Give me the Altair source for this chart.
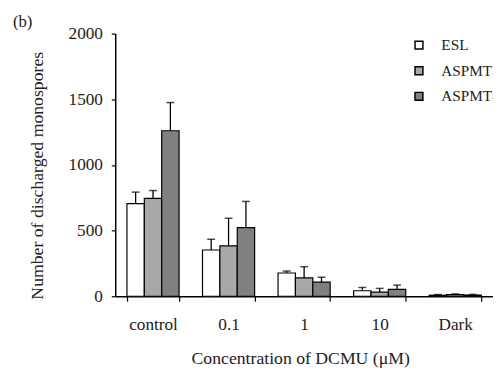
import altair as alt
import pandas as pd

categories = ["control", "0.1", "1", "10", "Dark"]
series = ["ESL", "ASPMT3", "ASPMT4"]
colors = ["#ffffff", "#a8a8a8", "#808080"]

esl_mean = [705, 352, 177, 42, 8]
esl_err = [88, 82, 15, 25, 5]
aspmt3_mean = [745, 384, 140, 32, 12]
aspmt3_err = [60, 210, 85, 28, 6]
aspmt4_mean = [1260, 522, 107, 52, 9]
aspmt4_err = [215, 200, 38, 33, 5]

rows = []
for s, means, errs in [("ESL", esl_mean, esl_err),
                       ("ASPMT3", aspmt3_mean, aspmt3_err),
                       ("ASPMT4", aspmt4_mean, aspmt4_err)]:
    for c, m, e in zip(categories, means, errs):
        rows.append({"conc": c, "series": s, "mean": m, "upper": m + e})
df = pd.DataFrame(rows)

FONT = "Liberation Serif"

base = alt.Chart(df).encode(
    x=alt.X("conc:N", sort=categories,
            scale=alt.Scale(paddingInner=0.31, paddingOuter=0.155),
            axis=alt.Axis(title="Concentration of DCMU (μM)", labelAngle=0,
                          tickBand="extent", tickSize=5, labelPadding=15,
                          titlePadding=17, titleX=188)),
    xOffset=alt.XOffset("series:N", sort=series,
                        scale=alt.Scale(paddingInner=0, paddingOuter=0)),
)

bars = base.mark_bar(stroke="black", strokeWidth=1.2).encode(
    y=alt.Y("mean:Q", scale=alt.Scale(domain=[0, 2000]),
            axis=alt.Axis(title="Number of discharged monospores",
                          values=[0, 500, 1000, 1500, 2000], format="d",
                          tickSize=4, labelPadding=9, titlePadding=22,
                          titleY=144)),
    color=alt.Color("series:N", sort=series,
                    scale=alt.Scale(domain=series, range=colors),
                    legend=alt.Legend(title=None, orient="none", legendX=301,
                                      legendY=4, symbolType="square",
                                      symbolSize=64, symbolStrokeColor="black",
                                      symbolStrokeWidth=1.5, labelOffset=15,
                                      rowPadding=9, labelFontSize=15.5,
                                      labelFont=FONT, labelColor="#222",
                                      padding=0)),
)

errs = base.mark_rule(color="black", strokeWidth=1.3).encode(
    y="mean:Q", y2="upper:Q")
caps = base.mark_tick(color="black", thickness=1.5, size=8).encode(
    y="upper:Q")

chart = alt.layer(bars, errs, caps).properties(
    width=384, height=267,
    autosize=alt.AutoSizeParams(type="none"),
    padding={"left": 109, "top": 23, "right": 0, "bottom": 76},
    title=alt.Title("(b)", anchor="start", frame="group", dx=-104, dy=13,
                    offset=7, fontSize=17, font=FONT, fontWeight="normal",
                    color="#222"),
).configure_view(stroke=None).configure_axis(
    labelFont=FONT, titleFont=FONT, labelFontSize=17.5, titleFontSize=18,
    titleFontWeight="normal", labelColor="#222", titleColor="#222",
    domainColor="black", tickColor="black", domainWidth=1.5, tickWidth=1.2,
    grid=False,
)

chart.save("out.html", embed_options={"renderer": "svg", "actions": False})
